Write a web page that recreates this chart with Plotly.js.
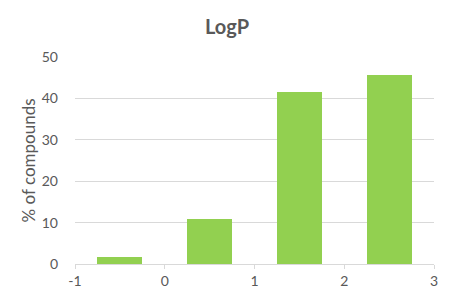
<!DOCTYPE html>
<html>
<head>
<meta charset="utf-8">
<script src="https://cdn.plot.ly/plotly-3.0.1.min.js"></script>
<style>
  html, body { margin: 0; padding: 0; background: #fff; }
  #chart { width: 454px; height: 302px; }
</style>
</head>
<body>
<div id="chart"></div>
<script>
// LogP histogram: bin centres and share of compounds per bin
const binCenters = [-0.5, 0.5, 1.5, 2.5];
const percentCompounds = [1.7, 10.9, 41.5, 45.7];
const xTicks = [-1, 0, 1, 2, 3];
const yTicks = [0, 10, 20, 30, 40, 50];

const textColor = '#595959';
const fontFamily = 'Lato, "Open Sans", "Liberation Sans", sans-serif';

const trace = {
  type: 'bar',
  x: binCenters,
  y: percentCompounds,
  width: 0.5,
  marker: { color: '#92d050' },
  hoverinfo: 'x+y'
};

const layout = {
  width: 454,
  height: 302,
  margin: { l: 75, r: 20, t: 57, b: 38 },
  paper_bgcolor: '#ffffff',
  plot_bgcolor: '#ffffff',
  showlegend: false,
  font: { family: fontFamily, color: textColor, size: 14 },
  title: {
    text: '<b>LogP</b>',
    font: { family: fontFamily, size: 20, color: textColor },
    x: 0.5,
    xanchor: 'center',
    y: 0.91,
    yanchor: 'middle'
  },
  xaxis: {
    range: [-1, 3],
    tickvals: xTicks,
    ticktext: xTicks.map(String),
    showgrid: false,
    zeroline: false,
    showline: true,
    linecolor: '#d9d9d9',
    linewidth: 1,
    ticks: 'outside',
    ticklen: 4,
    tickcolor: '#d9d9d9',
    tickfont: { size: 14, color: textColor },
    fixedrange: true
  },
  yaxis: {
    range: [0, 50],
    tickvals: yTicks,
    ticktext: yTicks.map(String),
    showgrid: true,
    gridcolor: '#d9d9d9',
    gridwidth: 1,
    zeroline: false,
    showline: false,
    ticks: '',
    ticklabelstandoff: 16,
    tickfont: { size: 14, color: textColor },
    title: {
      text: '% of compounds',
      font: { size: 17, color: textColor },
      standoff: 1
    },
    fixedrange: true
  },
  bargap: 0
};

Plotly.newPlot('chart', [trace], layout, { displayModeBar: false, staticPlot: true });
</script>
</body>
</html>
